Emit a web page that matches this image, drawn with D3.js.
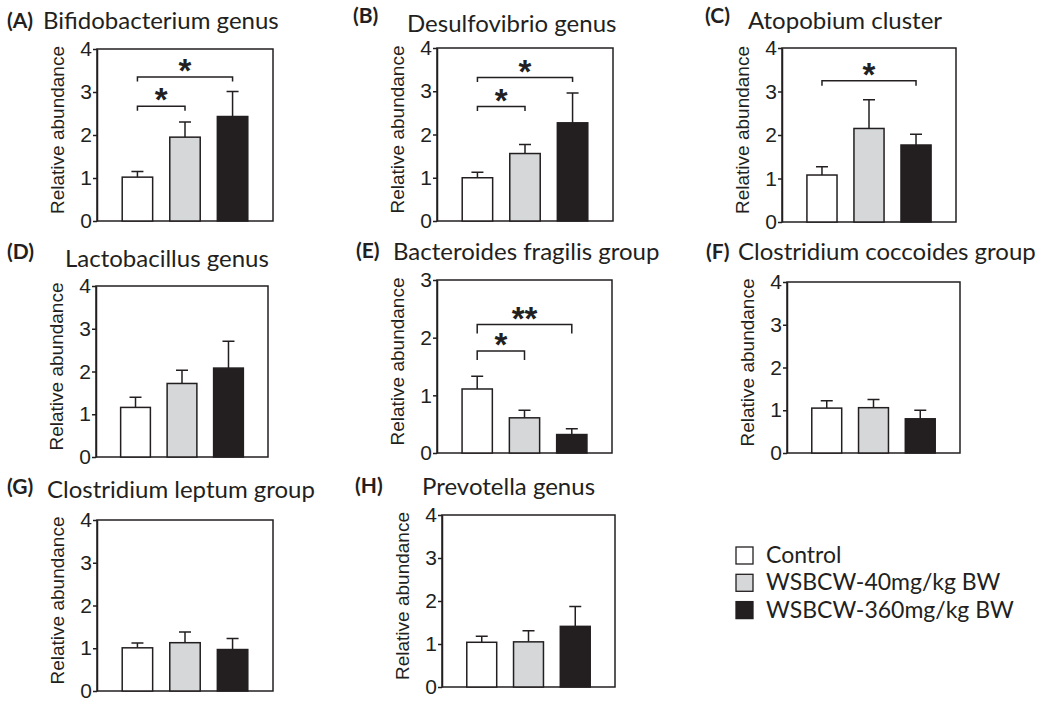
<!DOCTYPE html>
<html>
<head>
<meta charset="utf-8">
<script src="https://cdn.jsdelivr.net/npm/d3@7"></script>
<style>
  body { margin: 0; background: #fff; }
</style>
</head>
<body>
<svg width="1050" height="704"></svg>
<script>
// ---- data ----
const groups = ['Control', 'WSBCW-40mg/kg BW', 'WSBCW-360mg/kg BW'];
const letters = ['A', 'B', 'C', 'D', 'E', 'F', 'G', 'H'];
const titles = [
    'Bifidobacterium genus',
    'Desulfovibrio genus',
    'Atopobium cluster',
    'Lactobacillus genus',
    'Bacteroides fragilis group',
    'Clostridium coccoides group',
    'Clostridium leptum group',
    'Prevotella genus'
];
const yMax = [4, 4, 4, 4, 3, 4, 4, 4];
const means = [
    [1.02, 1.95, 2.43],
    [1.00, 1.56, 2.27],
    [1.08, 2.15, 1.77],
    [1.16, 1.72, 2.08],
    [1.11, 0.61, 0.32],
    [1.05, 1.06, 0.80],
    [1.01, 1.13, 0.97],
    [1.04, 1.05, 1.41]
];
const sem = [
    [0.13, 0.35, 0.58],
    [0.13, 0.21, 0.69],
    [0.19, 0.66, 0.25],
    [0.24, 0.31, 0.63],
    [0.22, 0.13, 0.10],
    [0.17, 0.19, 0.20],
    [0.11, 0.25, 0.26],
    [0.14, 0.26, 0.46]
];
// significance: [panel, group a, group b, bracket height, mark]
const sigs = [
    [0, 0, 1, 2.67, '*'],
    [0, 0, 2, 3.35, '*'],
    [1, 0, 1, 2.65, '*'],
    [1, 0, 2, 3.32, '*'],
    [2, 0, 2, 3.25, '*'],
    [4, 0, 1, 1.77, '*'],
    [4, 0, 2, 2.23, '**']
];

// ---- layout ----
// plot box: left, top, right, bottom
const frames = [
    [97, 49, 273, 221],
    [437, 48, 613, 221],
    [782, 48, 956, 222],
    [96, 286, 268, 457],
    [437, 280, 612, 453],
    [787, 282, 960, 453],
    [97, 520, 273, 691],
    [442, 515, 615, 687]
];
// letter x, letter baseline, title x, title baseline
const heads = [
    [7, 28, 43, 29],
    [353, 23, 407, 32],
    [705, 23, 748, 29],
    [7, 259, 65, 267],
    [356, 258, 393, 260],
    [706, 259, 738, 260],
    [7, 494, 47, 498],
    [355, 493, 422, 495]
];
const bracketTick = [4.5, 4.5, 5, 4.5, 9, 4.5, 4.5, 4.5];

const ink = '#231f20';
const colors = ['#ffffff', '#d5d7d9', '#231f20'];
const sansTitle = 'Lato, Carlito, sans-serif';
const sansAxis = '"Liberation Sans", Arial, Helvetica, sans-serif';
const starSize = 33;

const svg = d3.select('svg');

frames.forEach((f, i) => {
    const [x0, y0, x1, y1] = f;
    const g = svg.append('g');

    const x = d3.scaleBand()
        .domain(groups)
        .range([x0, x1])
        .paddingInner(0.36)
        .paddingOuter(0.53);

    const y = d3.scaleLinear()
        .domain([0, yMax[i]])
        .range([y1, y0]);

    // heading
    g.append('text')
        .attr('x', heads[i][0])
        .attr('y', heads[i][1])
        .attr('font-family', sansTitle)
        .attr('font-weight', 'bold')
        .attr('font-size', 21)
        .attr('fill', ink)
        .text(`(${letters[i]})`);
    g.append('text')
        .attr('x', heads[i][2])
        .attr('y', heads[i][3])
        .attr('font-family', sansTitle)
        .attr('font-size', 24)
        .attr('fill', ink)
        .text(titles[i]);

    // y axis
    const axis = g.append('g')
        .attr('transform', `translate(${x0},0)`)
        .call(d3.axisLeft(y)
            .ticks(yMax[i])
            .tickFormat(d3.format('d'))
            .tickSize(4)
            .tickSizeOuter(0)
            .tickPadding(1));
    axis.selectAll('text')
        .attr('font-family', sansAxis)
        .attr('font-size', 21)
        .attr('fill', ink);
    axis.selectAll('line, path')
        .attr('stroke', ink)
        .attr('stroke-width', 1.5);

    g.append('text')
        .attr('transform', `translate(${x0 - 33},${(y0 + y1) / 2 - 5}) rotate(-90)`)
        .attr('text-anchor', 'middle')
        .attr('font-family', sansAxis)
        .attr('font-size', 19)
        .attr('fill', ink)
        .text('Relative abundance');

    // frame
    g.append('rect')
        .attr('x', x0)
        .attr('y', y0)
        .attr('width', x1 - x0)
        .attr('height', y1 - y0)
        .attr('fill', 'none')
        .attr('stroke', ink)
        .attr('stroke-width', 1.5);

    const rows = groups.map((k, j) => ({ k, j, m: means[i][j], e: sem[i][j] }));
    const cx = d => x(d.k) + x.bandwidth() / 2;

    // error bars (upper only)
    g.selectAll('.err')
        .data(rows)
        .join('path')
            .attr('d', d => `M${cx(d)},${y(d.m)}V${y(d.m + d.e)}M${cx(d) - 6},${y(d.m + d.e)}H${cx(d) + 6}`)
            .attr('fill', 'none')
            .attr('stroke', ink)
            .attr('stroke-width', 1.5);

    // bars
    g.selectAll('.bar')
        .data(rows)
        .join('rect')
            .attr('x', d => x(d.k))
            .attr('y', d => y(d.m))
            .attr('width', x.bandwidth())
            .attr('height', d => y(0) - y(d.m))
            .attr('fill', d => colors[d.j])
            .attr('stroke', ink)
            .attr('stroke-width', 1.5);

    // significance brackets
    const tk = bracketTick[i];
    sigs.filter(s => s[0] === i).forEach(s => {
        const xa = x(groups[s[1]]) + x.bandwidth() / 2;
        const xb = x(groups[s[2]]) + x.bandwidth() / 2;
        const yb = y(s[3]);
        g.append('path')
            .attr('d', `M${xa},${yb + tk}V${yb}H${xb}V${yb + tk}`)
            .attr('fill', 'none')
            .attr('stroke', ink)
            .attr('stroke-width', 1.5);
        g.append('text')
            .attr('x', (xa + xb) / 2)
            .attr('y', yb - 14 + starSize * 0.58)
            .attr('text-anchor', 'middle')
            .attr('font-family', sansAxis)
            .attr('font-weight', 'bold')
            .attr('font-size', starSize)
            .attr('fill', ink)
            .text(s[4]);
    });
});

// legend
const legend = svg.append('g')
    .attr('transform', 'translate(736,547)');

const item = legend.selectAll('g')
    .data(groups)
    .join('g')
        .attr('transform', (d, j) => `translate(0,${j * 27.3})`);

item.append('rect')
    .attr('width', 17)
    .attr('height', 17)
    .attr('fill', (d, j) => colors[j])
    .attr('stroke', ink)
    .attr('stroke-width', 1.3);

item.append('text')
    .attr('x', 30)
    .attr('y', 16)
    .attr('font-family', sansTitle)
    .attr('font-size', 23)
    .attr('fill', ink)
    .text(d => d);
</script>
</body>
</html>
